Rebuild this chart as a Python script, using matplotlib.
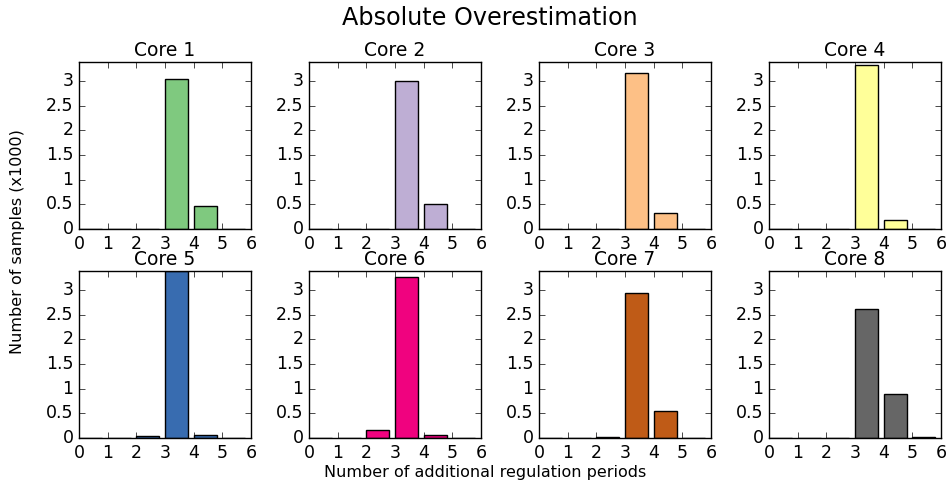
import matplotlib
matplotlib.use("Agg")
import matplotlib.pyplot as plt
import numpy as np

plt.style.use("classic")

bins = [0, 1, 2, 3, 4, 5]
core_names = ["Core 1", "Core 2", "Core 3", "Core 4", "Core 5", "Core 6", "Core 7", "Core 8"]
core1 = [0, 0, 0, 3.04, 0.47, 0]
core2 = [0, 0, 0, 3.00, 0.51, 0]
core3 = [0, 0, 0, 3.17, 0.33, 0]
core4 = [0, 0, 0, 3.33, 0.19, 0]
core5 = [0, 0, 0.05, 3.39, 0.07, 0]
core6 = [0, 0, 0.17, 3.27, 0.07, 0]
core7 = [0, 0, 0.02, 2.94, 0.54, 0]
core8 = [0, 0, 0, 2.61, 0.89, 0.02]
series = [core1, core2, core3, core4, core5, core6, core7, core8]
colors = ["#7fc97f", "#beaed4", "#fdc086", "#ffff99", "#386cb0", "#f0027f", "#bf5b17", "#666666"]
yticks = [0, 0.5, 1, 1.5, 2, 2.5, 3]
ytick_labels = ["0", "0.5", "1", "1.5", "2", "2.5", "3"]

fig = plt.figure(figsize=(9.47, 4.83), dpi=100, facecolor="white")
W, H = 947.0, 483.0
lefts = [79, 309, 539, 769]
tops = [62, 271]
aw, ah = 172, 167

for i, (name, vals, col) in enumerate(zip(core_names, series, colors)):
    r, c = divmod(i, 4)
    ax = fig.add_axes([lefts[c] / W, 1 - (tops[r] + ah) / H, aw / W, ah / H])
    ax.bar(bins, vals, width=0.8, align="edge", color=col, edgecolor="black", linewidth=1)
    ax.set_xlim(0, 6)
    ax.set_ylim(0, 3.39)
    ax.set_xticks(range(7))
    ax.set_yticks(yticks)
    ax.set_yticklabels(ytick_labels)
    ax.tick_params(labelsize=12.5, direction="in", length=4)
    ax.set_title(name, fontsize=13.5, pad=4)
    ax.set_facecolor("white")

fig.text(490 / W, 1 - 18 / H, "Absolute Overestimation", ha="center", va="center", fontsize=17.2)
fig.text(18 / W, 0.5, "Number of samples (x1000)", rotation=90, ha="center", va="center", fontsize=11.5)
fig.text(485 / W, 1 - 472 / H, "Number of additional regulation periods", ha="center", va="center", fontsize=11.5)

fig.savefig("out.png", dpi=100, facecolor="white")
